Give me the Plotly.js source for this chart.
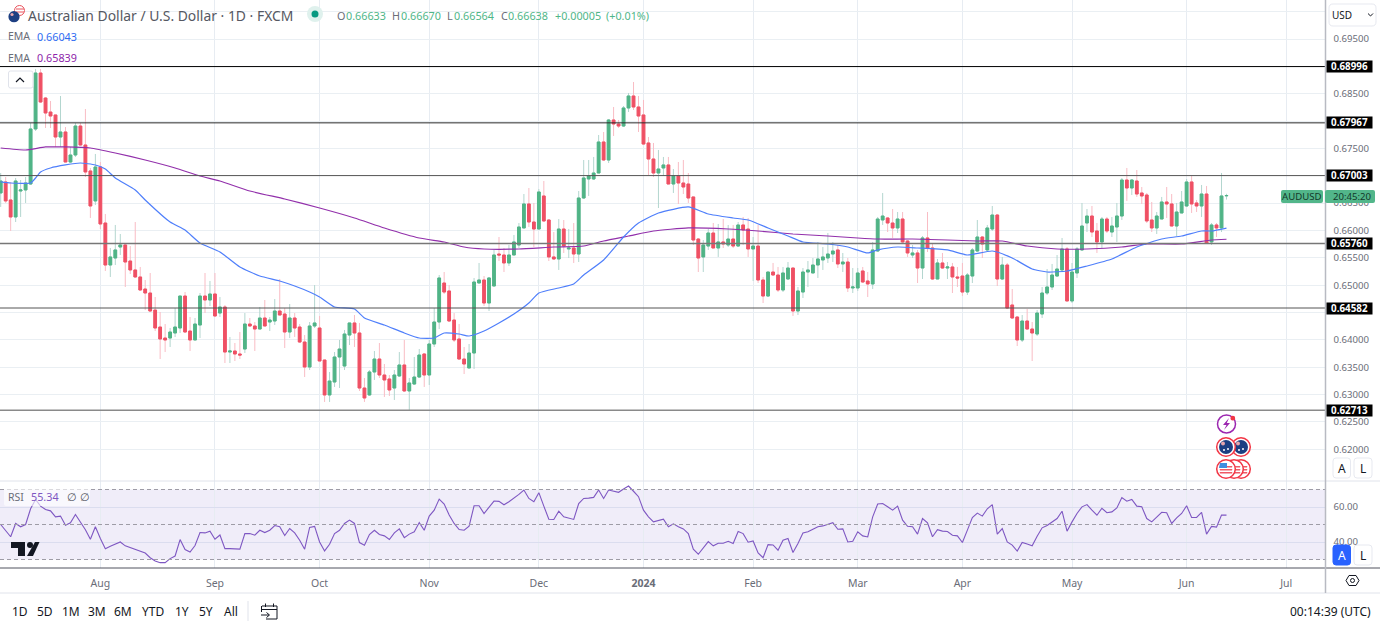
<!DOCTYPE html>
<html><head><meta charset="utf-8">
<script src="https://cdn.plot.ly/plotly-3.0.1.min.js"></script>
<style>html,body{margin:0;padding:0;background:#fff;overflow:hidden}#chart{width:1380px;height:627px}</style>
</head><body><div id="chart"></div>
<script>
const opens=[.66685,.66886,.66557,.66246,.66721,.66740,.66849,.67855,.68878,.68421,.68165,.68111,.67708,.67800,.67251,.67379,.67909,.67562,.67087,.66539,.67160,.66136,.65368,.65496,.65697,.65734,.65441,.65277,.65149,.64929,.64856,.64545,.64234,.64033,.64033,.64125,.64216,.64801,.64161,.63997,.64271,.64801,.64728,.64838,.64490,.64600,.63777,.63796,.63741,.63832,.64289,.64253,.64198,.64399,.64326,.64344,.64527,.64472,.64143,.64399,.64234,.63960,.63503,.64253,.64216,.63631,.62992,.63229,.63686,.63521,.64088,.64308,.64125,.63119,.62992,.63412,.63649,.63357,.63284,.63119,.63339,.63540,.63065,.63192,.63320,.63741,.63357,.63924,.64326,.65039,.64893,.64362,.64015,.63649,.63485,.63759,.65039,.65094,.64673,.64984,.65569,.65551,.65405,.65551,.65734,.66045,.66484,.66154,.66026,.66630,.66191,.65515,.65478,.66026,.65661,.65679,.65569,.66593,.66941,.66941,.67050,.67617,.67288,.68019,.67946,.67909,.68239,.68458,.68257,.68111,.67599,.67306,.67050,.67142,.67197,.66849,.66995,.66867,.66849,.66612,.65843,.65515,.65715,.65953,.65679,.65789,.65734,.65843,.65715,.66100,.66026,.65661,.65715,.65094,.64801,.65240,.65185,.64911,.65112,.65313,.64527,.64874,.65240,.65222,.65368,.65460,.65496,.65569,.65643,.65387,.65423,.64948,.64948,.65259,.65076,.65021,.65624,.66191,.66228,.66136,.66045,.66209,.65807,.65551,.65588,.65313,.65862,.65679,.65112,.65405,.65313,.65332,.65149,.65167,.64874,.65167,.65624,.65880,.65643,.66026,.66282,.65112,.65368,.64637,.64417,.63997,.64344,.64198,.64106,.64472,.64856,.64966,.65167,.65277,.65661,.64710,.65222,.65643,.66136,.66264,.65990,.65789,.66209,.65971,.66063,.66264,.66922,.66776,.66904,.66685,.66648,.66191,.66045,.66209,.66520,.66484,.66081,.66319,.66447,.66886,.66502,.66447,.66666,.65789,.66100,.66045,.66633];
const highs=[.67050,.66977,.66886,.66959,.66922,.66977,.67964,.68952,.68952,.68440,.68367,.68111,.68458,.67891,.67526,.67964,.67964,.68220,.67142,.67398,.67251,.66301,.65679,.66100,.65935,.65752,.65715,.66154,.65332,.65094,.65222,.64783,.64509,.64289,.64216,.64582,.64801,.64874,.64417,.64399,.64856,.65222,.65076,.65222,.64783,.64637,.64052,.63942,.64143,.64490,.64399,.64326,.64600,.64728,.64417,.64746,.65112,.64582,.64655,.64490,.64289,.64088,.64326,.65002,.64436,.63631,.63412,.63777,.63997,.64180,.64308,.64454,.64308,.63302,.63448,.63796,.63942,.63558,.63357,.63448,.63777,.63997,.63302,.63686,.63832,.63759,.63997,.64582,.65185,.65240,.65002,.64490,.64289,.63869,.63924,.65131,.65405,.65167,.65149,.65643,.65880,.65679,.65734,.65917,.66136,.66666,.66776,.66502,.66758,.66904,.66209,.65971,.66209,.66191,.66026,.66136,.66721,.67288,.67288,.67343,.67745,.67800,.68037,.68257,.68019,.68275,.68513,.68714,.68458,.68385,.67708,.67599,.67471,.67343,.67343,.67123,.67251,.67288,.67050,.66612,.65862,.65825,.66026,.66136,.66118,.66209,.66100,.66100,.66154,.66246,.66228,.65880,.66100,.65149,.65240,.65405,.65332,.65332,.65423,.65313,.64966,.65313,.65441,.65496,.65789,.65697,.65953,.65789,.65734,.65588,.65496,.65313,.65313,.65332,.65240,.65789,.66246,.66685,.66246,.66392,.66337,.66337,.65825,.65734,.65643,.65898,.66337,.65770,.65478,.65588,.65423,.65405,.65332,.65405,.65222,.65679,.66191,.65898,.66100,.66447,.66301,.65515,.65405,.64929,.64436,.64454,.64564,.64326,.64545,.64966,.65295,.65387,.65551,.65862,.65697,.65405,.65697,.66502,.66392,.66447,.66136,.66246,.66246,.66246,.66502,.66959,.67142,.66941,.67105,.66794,.66685,.66520,.66337,.66612,.66794,.66666,.66502,.66721,.66941,.66995,.66557,.66831,.66813,.66136,.66136,.67050,.66670];
const lows=[.66429,.66502,.65990,.66154,.66246,.66502,.66831,.67818,.68330,.67873,.67873,.67526,.67526,.67251,.67233,.67343,.67544,.66977,.66228,.66465,.66026,.65259,.65149,.65368,.65551,.64966,.65204,.65131,.64893,.64545,.64509,.64161,.63649,.63777,.63869,.64052,.64125,.64125,.63796,.63997,.64033,.64490,.64618,.64417,.64417,.63576,.63576,.63613,.63649,.63759,.64234,.63796,.64198,.64253,.64161,.64271,.64454,.63850,.64033,.64052,.63942,.63320,.63448,.64216,.63613,.62864,.62864,.63138,.63119,.63448,.63905,.63869,.63065,.62864,.62973,.63266,.63302,.62955,.62973,.62900,.63320,.63046,.62699,.63174,.63302,.63138,.63174,.63869,.64198,.64838,.64326,.63960,.63631,.63375,.63485,.63467,.65039,.64618,.64527,.64984,.65441,.65240,.65350,.65551,.65679,.66045,.66063,.65697,.66026,.66154,.65441,.65460,.65277,.65588,.65496,.65405,.65423,.66575,.66630,.66922,.67050,.67270,.67233,.67727,.67873,.67891,.68165,.68202,.67800,.67562,.67014,.66977,.66410,.66995,.66849,.66685,.66484,.66666,.66502,.65734,.65240,.65240,.65643,.65679,.65515,.65679,.65697,.65679,.65697,.65734,.65515,.65076,.65039,.64673,.64783,.65167,.64874,.64874,.65094,.64436,.64454,.64765,.64966,.65222,.65131,.65277,.65405,.65423,.65313,.65240,.64874,.64856,.64893,.65039,.64783,.64929,.65606,.66100,.65971,.65862,.65953,.65770,.65515,.65496,.65039,.65112,.65606,.65094,.65112,.65295,.65112,.64856,.64966,.64801,.64820,.65039,.65606,.65496,.65624,.65990,.64984,.65094,.64564,.64381,.63887,.63960,.64180,.63613,.64070,.64399,.64820,.64911,.65149,.65240,.64710,.64673,.65131,.65624,.65971,.65880,.65588,.65679,.65953,.65880,.65789,.66191,.66539,.66648,.66612,.66484,.66136,.65971,.65935,.66209,.66228,.66081,.65898,.66319,.66429,.66319,.66337,.66246,.65770,.65734,.65880,.65971,.66564];
const closes=[.66904,.66539,.66246,.66904,.66740,.66867,.67855,.68878,.68348,.68147,.68092,.67708,.67800,.67251,.67379,.67909,.67562,.67069,.66447,.67160,.66118,.65368,.65515,.65643,.65734,.65423,.65277,.65149,.64911,.64856,.64527,.64216,.64015,.63997,.64143,.64234,.64801,.64143,.63997,.64289,.64801,.64728,.64838,.64436,.64600,.63777,.63796,.63741,.63722,.64289,.64253,.64198,.64399,.64253,.64362,.64527,.64454,.64143,.64399,.64216,.63960,.63503,.64253,.64308,.63613,.62992,.63247,.63686,.63832,.64106,.64308,.64125,.63119,.62937,.63412,.63649,.63357,.63266,.63083,.63357,.63540,.63065,.63211,.63320,.63722,.63357,.63924,.64326,.65131,.64874,.64344,.63997,.63649,.63558,.63759,.65057,.65094,.64673,.65131,.65551,.65551,.65405,.65551,.65789,.66063,.66484,.66154,.66026,.66703,.66173,.65515,.65478,.66026,.65715,.65679,.65569,.66593,.66959,.66995,.67050,.67617,.67288,.68019,.67946,.67909,.68239,.68458,.68257,.68092,.67580,.67306,.67050,.67123,.67197,.66849,.66995,.66867,.66794,.66593,.65825,.65496,.65734,.65953,.65679,.65789,.65752,.65843,.65715,.66100,.66008,.65661,.65715,.65094,.64801,.65240,.65185,.64911,.65222,.65313,.64527,.64893,.65240,.65277,.65368,.65478,.65515,.65569,.65624,.65387,.65423,.64948,.64966,.65222,.65057,.65021,.65643,.66209,.66264,.66136,.66045,.66209,.65789,.65588,.65588,.65313,.65862,.65679,.65112,.65405,.65313,.65332,.65149,.65131,.64874,.65185,.65643,.65880,.65752,.66045,.66282,.65112,.65368,.64582,.64399,.63997,.64344,.64198,.64125,.64490,.64856,.64966,.65185,.65295,.65661,.64710,.65240,.65661,.66081,.66264,.65971,.65789,.66209,.65990,.66081,.66264,.66922,.66776,.66922,.66666,.66630,.66173,.66045,.66264,.66520,.66484,.66081,.66337,.66520,.66886,.66484,.66447,.66666,.65770,.66100,.66045,.66630,.66638];
const rsiValues=[50,46.7,43,50.6,48.7,50,59,64.3,60.5,58.6,57.8,54.4,54.8,49.6,51,55.7,51.5,47,41.6,48.7,42,36.2,37.6,39,40,37.8,36.8,35.9,34.7,33.7,31,29.2,28.2,28.2,30.5,32,41.4,35.7,34.3,38,45.4,45.2,46.2,41.6,44,36.2,36.2,36,35.9,44.8,44.8,43.9,46.7,45.4,46.7,49.4,48.7,43.7,47.7,45.2,41,35.9,48.3,48.9,40,34.9,38.7,44.8,46.7,50.6,52.5,50.6,39.7,38.1,44.3,46.7,44.3,43.5,41.4,45.2,47.5,42.5,44.5,45.8,51.1,46.7,54.8,58.2,64.5,61.7,55.4,50.6,47.1,46.7,49,60.7,60.7,56.3,60.1,63.4,63.2,61.3,63,64.9,67.2,69.7,64.9,63,68.2,60.5,53,52.9,57.6,54.4,53.8,52.9,62,64.9,65.1,65.5,69.7,64.9,69.7,69.1,68.4,70.3,72,69,65.9,58.2,54.4,51.5,52.1,53,48.7,50.4,48.7,47.5,44.8,35.9,33,36.6,40.2,37.8,39.3,39.3,40.4,39.1,46,44.8,39.9,40.6,33.7,31,38.5,38.3,35.3,41,42,34,39.1,45.2,45.8,47.3,48.7,49.2,50.2,51,47.3,47.5,40,40.4,45.8,43.5,42.9,54.4,61.7,62,60.1,58.2,60.5,52.5,49,48.7,44.5,53.4,51,43,47,46.2,46,43.9,43.5,39.7,46.8,54,56.5,54.8,59,61.4,44.5,47.7,40,38.2,34.8,39.7,38.8,37.8,43.3,48.1,49.4,51.5,53.4,57.6,46.2,51.5,56.3,60.1,61.4,58.2,55.3,59.3,56.7,57.2,59.5,65.4,63.3,64.3,60.5,60.1,53.4,51.5,54.4,57,56.7,50.6,53.8,56.3,60.7,54,54,56.9,44.5,48.9,48.5,55.34,55.34];
const emaFastBars=[0,2,6,7,8,10,13,16,19,21,23,27,29,34,37,40,44,48,52,56,59,62,64,67,71,73,77,81,84,87,89,92,94,97,100,103,106,108,112,115,117,121,125,128,132,138,142,147,150,154,158,161,166,170,174,176,180,184,190,194,199,203,207,210,214,218,223,228,233,237,241,243,246];
const emaFastValues=[.66886,.66867,.66867,.66959,.67069,.67142,.67197,.67233,.67197,.67123,.66959,.66740,.66557,.66154,.66008,.65770,.65606,.65332,.65167,.65076,.64984,.64874,.64783,.64600,.64564,.64399,.64271,.64125,.64033,.64033,.64125,.64106,.64070,.64161,.64308,.64472,.64673,.64856,.64948,.65021,.65185,.65460,.65880,.66136,.66319,.66429,.66301,.66228,.66191,.66045,.65898,.65789,.65752,.65697,.65588,.65643,.65697,.65679,.65643,.65551,.65624,.65496,.65295,.65240,.65259,.65350,.65478,.65697,.65843,.65898,.65990,.65990,.66043];
const emaSlowBars=[0,5,9,13,18,23,29,35,40,44,50,57,64,71,77,84,89,93,97,104,111,117,121,126,131,138,146,152,159,166,172,176,183,190,196,201,206,212,218,225,230,237,243,246];
const emaSlowValues=[.67507,.67471,.67526,.67526,.67507,.67416,.67288,.67142,.66995,.66904,.66721,.66575,.66410,.66228,.66045,.65862,.65789,.65697,.65661,.65661,.65697,.65715,.65807,.65898,.65990,.66045,.66026,.65990,.65935,.65898,.65862,.65843,.65843,.65825,.65807,.65807,.65715,.65661,.65661,.65697,.65752,.65752,.65825,.65839];
const levels=[.68996,.67967,.67003,.65760,.64582,.62713];
const levelLabels=["0.68996","0.67967","0.67003","0.65760","0.64582","0.62713"];
const levelColors=['#000','#2b2b2b','#555','#777','#555','#8a8a8a'];
const priceTicks=[.62,.625,.63,.635,.64,.645,.65,.655,.66,.665,.67,.675,.68,.685,.69,.695,.70];
const priceTickText=["0.62000","0.62500","0.63000","0.63500","0.64000","","0.65000","0.65500","0.66000","0.66500","","0.67500","","0.68500","","0.69500",""];
const monthBars=[20,43,64,86,108,129,151,172,193,215,238,258];
const monthLabels=["Aug","Sep","Oct","Nov","Dec","<b>2024</b>","Feb","Mar","Apr","May","Jun","Jul"];
const rangeButtons=["1D","5D","1M","3M","6M","YTD","1Y","5Y","All"];
const rangeCentres=[20,45,71,97,123,153,182,206,231];

const W=1325,H=568,FONT='"Noto Sans","Open Sans",sans-serif';
const GREEN='#50b486',RED='#ef5064',GWICK='#b3d6cf',RWICK='#f9bcc4';
const px=x=>x/W, py=y=>(H-y)/H;
const bars=opens.map((_,i)=>i);
const bodyHi=opens.map((o,i)=>Math.max(o,closes[i]));
const bodyLo=opens.map((o,i)=>Math.min(o,closes[i]));

const wicks={type:'candlestick',x:bars,open:opens,high:highs,low:lows,close:closes,xaxis:'x',yaxis:'y',whiskerwidth:0,
  increasing:{line:{color:GWICK,width:1},fillcolor:GWICK},decreasing:{line:{color:RWICK,width:1},fillcolor:RWICK},hoverinfo:'skip',showlegend:false};
const bodies={type:'candlestick',x:bars,open:opens,high:bodyHi,low:bodyLo,close:closes,xaxis:'x',yaxis:'y',whiskerwidth:0,
  increasing:{line:{color:GREEN,width:1},fillcolor:GREEN},decreasing:{line:{color:RED,width:1},fillcolor:RED},hoverinfo:'skip',showlegend:false};
const slow={type:'scatter',mode:'lines',x:emaSlowBars,y:emaSlowValues,line:{color:'#9230ab',width:1.2,shape:'spline',smoothing:.5},xaxis:'x',yaxis:'y',hoverinfo:'skip',showlegend:false};
const fast={type:'scatter',mode:'lines',x:emaFastBars,y:emaFastValues,line:{color:'#4f7ffb',width:1.2,shape:'spline',smoothing:.5},xaxis:'x',yaxis:'y',hoverinfo:'skip',showlegend:false};
const rsi={type:'scatter',mode:'lines',x:bars,y:rsiValues,line:{color:'#7e57c2',width:1.1},xaxis:'x',yaxis:'y2',hoverinfo:'skip',showlegend:false};

const shapes=[], notes=[];
function line(x0,y0,x1,y1,c,w,dash,layer){shapes.push({type:'line',xref:'paper',yref:'paper',x0:px(x0),y0:py(y0),x1:px(x1),y1:py(y1),line:{color:c,width:w||1,dash:dash||'solid'},layer:layer||'above'});}
function disc(cx,cy,r,fill,stroke,sw){shapes.push({type:'circle',xref:'paper',yref:'paper',x0:px(cx-r),x1:px(cx+r),y0:py(cy-r),y1:py(cy+r),fillcolor:fill,line:{color:stroke||fill,width:stroke?(sw||1):0},layer:'above'});}
function poly(pts,fill,stroke,sw,close){const d=pts.map((p,i)=>(i?'L':'M')+px(p[0]).toFixed(5)+','+py(p[1]).toFixed(5)).join('')+(close===false?'':'Z');
  shapes.push({type:'path',xref:'paper',yref:'paper',path:d,fillcolor:fill||'rgba(0,0,0,0)',line:{color:stroke||'rgba(0,0,0,0)',width:stroke?(sw||1):0},layer:'above'});}
function rrect(x0,y0,x1,y1,r,fill,stroke){const P=(x,y)=>px(x).toFixed(5)+','+py(y).toFixed(5);
  const d='M'+P(x0+r,y0)+'L'+P(x1-r,y0)+'Q'+P(x1,y0)+' '+P(x1,y0+r)+'L'+P(x1,y1-r)+'Q'+P(x1,y1)+' '+P(x1-r,y1)+'L'+P(x0+r,y1)+'Q'+P(x0,y1)+' '+P(x0,y1-r)+'L'+P(x0,y0+r)+'Q'+P(x0,y0)+' '+P(x0+r,y0)+'Z';
  shapes.push({type:'path',xref:'paper',yref:'paper',path:d,fillcolor:fill,line:{color:stroke||fill,width:stroke?1:0},layer:'above'});}
function text(s,x,y,size,color,anchor,bold){notes.push({text:bold?'<b>'+s+'</b>':s,xref:'paper',yref:'paper',x:px(x),y:py(y),xanchor:anchor||'left',yanchor:'middle',showarrow:false,font:{family:FONT,size:size,color:color},borderpad:0,borderwidth:0,captureevents:false});}

// RSI band and its guides, below the grid
shapes.push({type:'rect',xref:'x',yref:'y2',x0:-1,x1:270,y0:30,y1:70,fillcolor:'#f0edf9',line:{width:0},layer:'below'});
[70,50,30].forEach(v=>shapes.push({type:'line',xref:'paper',yref:'y2',x0:0,x1:1,y0:v,y1:v,line:{color:'#9e9ca6',width:1,dash:'4px,3px'},layer:'above'}));
// horizontal levels
levels.forEach((v,i)=>shapes.push({type:'line',xref:'paper',yref:'y',x0:0,x1:1,y0:v,y1:v,line:{color:levelColors[i],width:i===3||i===5?1.4:1},layer:'above'}));
// frame lines
line(0,481,1380,481,'#e0e3eb');
line(0,568,1325,568,'#50535e');
line(1325,568,1380,568,'#50535e');
line(0,593,1380,593,'#e0e3eb');
line(1325.5,0,1325.5,593,'#b8bac2',1.5);

// level labels
levels.forEach((v,i)=>{
  notes.push({text:'<b>'+levelLabels[i]+'</b>',xref:'paper',yref:'y',x:px(1326),y:v,xanchor:'left',yanchor:'middle',width:45,height:11,align:'center',showarrow:false,bgcolor:'#000',font:{family:FONT,size:9.8,color:'#fff'},borderpad:0});
});

// header
disc(19.5,10.5,5,'#ffffff','#e9525c',1);
line(16,9,24,9,'#e9525c');line(16,12,24,12,'#e9525c');
disc(14,16.7,5.6,'#1d3f82');
disc(12,14.5,1.6,'#e8a6ad');
text('Australian Dollar / U.S. Dollar · 1D · FXCM',28,15.5,13.9,'#555862');
disc(315,14,8,'#dff1ed');
disc(315,14,3.5,'#089981');
[['O',337],['H',392],['L',447],['C',501]].forEach(a=>text(a[0],a[1],15,10.8,'#6a6d78'));
[['0.66633',345.7],['0.66670',400.7],['0.66564',454],['0.66638',508],['+0.00005',555],['(+0.01%)',606]].forEach(a=>text(a[0],a[1],15,10.8,'#4fb688'));
text('EMA',8,36,10.5,'#6a6d78');text('0.66043',36.5,36,10.8,'#2f6bf2');
text('EMA',8,58,10.5,'#6a6d78');text('0.65839',36.5,58,10.8,'#8e24aa');
// collapse button
rrect(8.5,71,33,88,2,'#ffffff','#e0e3eb');
poly([[16,82],[20,78],[24,82]],null,'#131722',1.2,false);
// USD selector
rrect(1329,4,1376,26,4,'#ffffff','#e7e9f0');
text('USD',1332,15,10,'#131722');
poly([[1368,13.5],[1370.5,16],[1373,13.5]],null,'#131722',1,false);
// AUDUSD tag
rrect(1281,190,1323,203,2,'#52b68a');
rrect(1325,190,1375,203,2,'#52b68a');
text('AUDUSD',1301.8,196.5,9.6,'#123a2a','center');
text('20:45:20',1352.5,196.5,9.6,'#123a2a','center');
// event icons
disc(1226.5,424,9,'#ffffff','#9c27b0',1.5);
poly([[1229,418],[1223,425],[1226.5,425],[1224,430],[1230,423],[1226.8,423]],'#9c27b0');
disc(1232.8,418.2,2.4,'#f23645');
[[1241,447],[1226,447]].forEach(c=>{disc(c[0],c[1],9.3,'#ffffff','#f23645',1.5);disc(c[0],c[1],7,'#1d3f82');
  disc(c[0]-3,c[1]-3.5,2,'#e8a6ad');disc(c[0]+2,c[1]+2,1,'#fff');disc(c[0]-2,c[1]+3,1,'#fff');});
[[1241,469],[1234,469],[1226,469]].forEach((c,k)=>{disc(c[0],c[1],9.3,'#ffffff','#f23645',1.5);
  [-3,0,3].forEach(d=>poly([[c[0]-6.4,c[1]+d],[c[0]+6.4,c[1]+d],[c[0]+6,c[1]+d+1.4],[c[0]-6,c[1]+d+1.4]],'#ef5a66'));
  if(k!==1)poly([[c[0]-6,c[1]-6],[c[0]+1,c[1]-6],[c[0]+1,c[1]-1],[c[0]-7,c[1]-1]],'#3f8ee0');});
// scale buttons
[[458,478],[545,565]].forEach((r,k)=>{
  rrect(1333,r[0],1350.5,r[1],3,k?'#2962ff':'#ffffff',k?'#2962ff':'#e7e9f0');
  rrect(1354,r[0],1372,r[1],3,'#ffffff','#e7e9f0');
  text('A',1341.8,(r[0]+r[1])/2,12,k?'#ffffff':'#131722','center');
  text('L',1363,(r[0]+r[1])/2,12,'#131722','center');
});
// settings hexagon
poly([[1346,580.5],[1349,575.5],[1356,575.5],[1359,580.5],[1356,585.5],[1349,585.5]],null,'#131722',1);
disc(1352.5,580.5,2,'#ffffff','#131722',1);
// RSI legend
rrect(4,487,90,506,2,'rgba(255,255,255,0.62)');
text('RSI',8,496.5,10.5,'#6a6d78');
text('55.34',31,496.5,10.8,'#7e57c2');
text('∅',67,496.5,10.5,'#50535e');
text('∅',80,496.5,10.5,'#50535e');
// TradingView mark
poly([[11,542],[25,542],[25,556],[18,556],[18,548],[11,548]],'#131722');
disc(30,545,3,'#131722');
poly([[35,542],[39.5,542],[33,556],[27,556]],'#131722');
// bottom bar
rangeButtons.forEach((b,i)=>text(b,rangeCentres[i],611,12,'#131722','center'));
line(248,601,248,621,'#e0e3eb');
poly([[262,606],[277,606],[277,619],[266,619]],null,'#131722',1,false);
line(261.5,606,261.5,612,'#131722');
line(262,609.5,277,609.5,'#131722');
line(265.5,603.5,265.5,607,'#131722');line(273.5,603.5,273.5,607,'#131722');
line(261,615,269,615,'#131722');poly([[266.5,612.5],[269.5,615],[266.5,617.5]],null,'#131722',1,false);
text('00:14:39 (UTC)',1371,611,12,'#131722','right');

const layout={width:1380,height:627,autosize:false,paper_bgcolor:'#fff',plot_bgcolor:'#fff',
  margin:{l:0,r:55,t:0,b:59,pad:0},showlegend:false,hovermode:false,dragmode:false,
  boxmode:'overlay',boxgap:0.45,boxgroupgap:0,
  font:{family:FONT,size:10,color:'#6a6d78'},
  xaxis:{range:[-0.14,265.77],domain:[0,1],anchor:'y2',tickmode:'array',tickvals:monthBars,ticktext:monthLabels,showgrid:true,gridcolor:'#e7ecf2',gridwidth:1,zeroline:false,showline:false,ticks:'outside',ticklen:5,tickcolor:'rgba(0,0,0,0)',tickfont:{family:FONT,size:10.5,color:'#6a6d78'},rangeslider:{visible:false},fixedrange:true},
  yaxis:{domain:[(H-481)/H,1],range:[.61419,.70213],side:'right',anchor:'x',tickmode:'array',tickvals:priceTicks,ticktext:priceTickText,showgrid:true,gridcolor:'#eaeff3',gridwidth:1,zeroline:false,showline:false,ticks:'outside',ticklen:5.5,tickcolor:'rgba(0,0,0,0)',tickfont:{family:FONT,size:9.6,color:'#6a6d78'},fixedrange:true},
  yaxis2:{domain:[0,(H-481)/H],range:[25.14,74.86],side:'right',anchor:'x',tickmode:'array',tickvals:[40,60],ticktext:['40.00','60.00'],showgrid:true,gridcolor:'#dbddef',gridwidth:1,zeroline:false,showline:false,ticks:'outside',ticklen:5.5,tickcolor:'rgba(0,0,0,0)',tickfont:{family:FONT,size:9.6,color:'#6a6d78'},fixedrange:true},
  shapes:shapes,annotations:notes};
Plotly.newPlot('chart',[wicks,bodies,slow,fast,rsi],layout,{staticPlot:true,displayModeBar:false});
</script></body></html>
